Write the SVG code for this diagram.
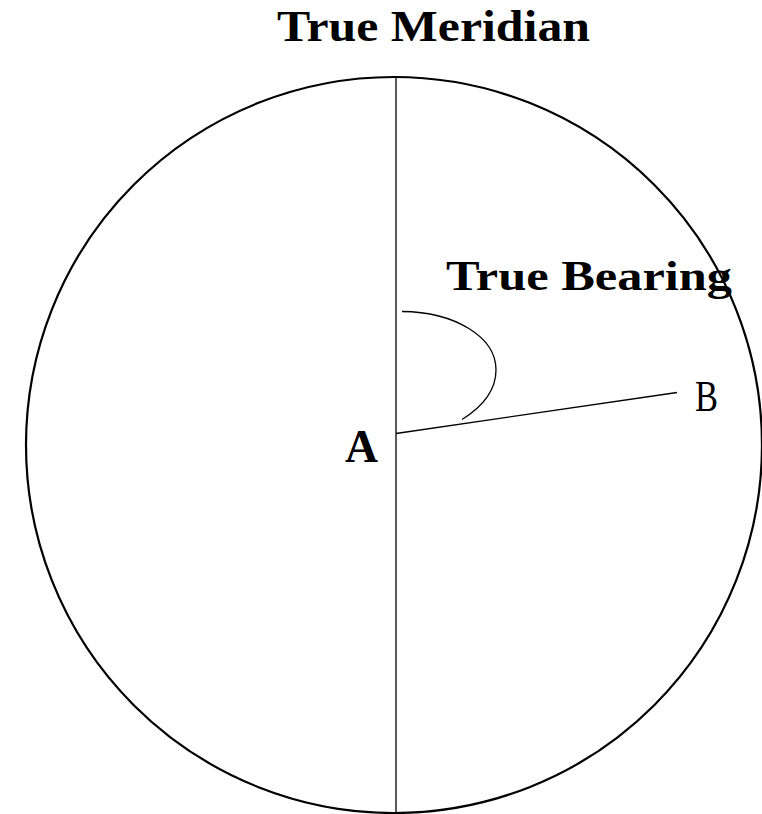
<svg xmlns="http://www.w3.org/2000/svg" width="762" height="814" viewBox="0 0 762 814">
<style>
.lbl{font-family:"Liberation Serif","Times New Roman",serif;fill:#000}
.b{font-weight:bold}
.thin{fill:none;stroke:#000;stroke-width:1.3}
</style>
<rect width="762" height="814" fill="#fff"/>
<g id="circle"><circle cx="394" cy="445" r="368" fill="none" stroke="#000" stroke-width="2.2"/></g>
<g id="connectors">
<line class="thin" x1="396" y1="77" x2="396" y2="814"/>
<line class="thin" x1="396" y1="433.5" x2="677" y2="392.5"/>
<path class="thin" d="M402,311.5 C455,312 496,337 496,370 C496,390 482,407 462,419.5"/>
</g>
<g id="title"><text class="lbl b" x="277" y="41" font-size="45" textLength="313" lengthAdjust="spacingAndGlyphs">True Meridian</text></g>
<g id="bearing"><text class="lbl b" x="446" y="290" font-size="42" textLength="286" lengthAdjust="spacingAndGlyphs">True Bearing</text></g>
<g id="nodeA"><text class="lbl b" x="345" y="461.5" font-size="46" textLength="33" lengthAdjust="spacingAndGlyphs">A</text></g>
<g id="nodeB"><text class="lbl" x="695" y="411" font-size="44" textLength="23" lengthAdjust="spacingAndGlyphs">B</text></g>
</svg>
